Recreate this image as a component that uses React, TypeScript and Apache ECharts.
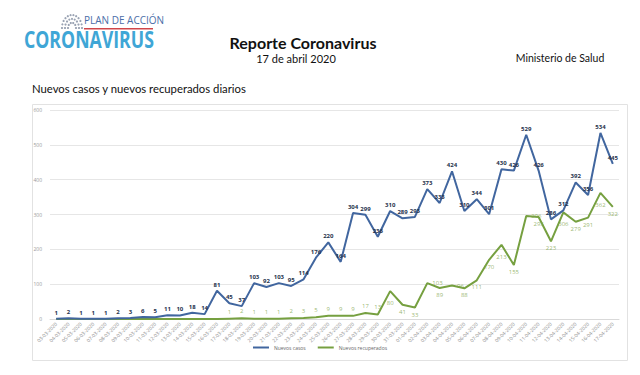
import React, { useEffect, useRef } from "react";
import * as echarts from "echarts";

const dates: string[] = [
  "03-03-2020","04-03-2020","05-03-2020","06-03-2020","07-03-2020","08-03-2020","09-03-2020","10-03-2020","11-03-2020","12-03-2020",
  "13-03-2020","14-03-2020","15-03-2020","16-03-2020","17-03-2020","18-03-2020","19-03-2020","20-03-2020","21-03-2020","22-03-2020",
  "23-03-2020","24-03-2020","25-03-2020","26-03-2020","27-03-2020","28-03-2020","29-03-2020","30-03-2020","31-03-2020","01-04-2020",
  "02-04-2020","03-04-2020","04-04-2020","05-04-2020","06-04-2020","07-04-2020","08-04-2020","09-04-2020","10-04-2020","11-04-2020",
  "12-04-2020","13-04-2020","14-04-2020","15-04-2020","16-04-2020","17-04-2020",
];

const nuevosCasos: number[] = [
  1, 2, 1, 1, 1, 2, 3, 6, 5, 11,
  10, 18, 14, 81, 45, 37, 103, 92, 103, 95,
  114, 176, 220, 164, 304, 299, 236, 310, 289, 293,
  373, 333, 424, 310, 344, 301, 430, 426, 529, 426,
  286, 312, 392, 356, 534, 445,
];

const nuevosRecuperados: number[] = [
  0, 0, 0, 0, 0, 0, 0, 0, 0, 0,
  0, 0, 0, 0, 1, 2, 1, 1, 1, 2,
  3, 5, 9, 9, 9, 17, 13, 80, 41, 33,
  103, 89, 96, 88, 111, 170, 213, 155, 296, 293,
  223, 306, 279, 291, 362, 322,
];

const yTicks = { min: 0, max: 600, interval: 100 };

const BLUE = "#41669f";
const GREEN = "#76a040";

export default function App() {
  const ref = useRef<HTMLDivElement>(null);
  useEffect(() => {
    if (!ref.current) return;
    const chart = echarts.init(ref.current, undefined, { renderer: "svg" });

    // decorative dome of dots for logo
    const dots: any[] = [];
    const cx = 72, cy = 28;
    [4, 7, 10].forEach((r, ri) => {
      const n = 5 + ri * 3;
      for (let i = 0; i <= n; i++) {
        const a = Math.PI - (Math.PI * i) / n;
        dots.push({
          type: "circle",
          shape: { cx: cx + r * Math.cos(a), cy: cy - r * Math.sin(a) * 1.3, r: 1.1 },
          style: { fill: "#9aa3b3" },
        });
      }
    });

    const greenLabel = (v: number, i: number) => {
      if (v < 20) return { show: v !== 0, position: "top", distance: 4 };
      const prev = i > 0 ? nuevosRecuperados[i - 1] : v;
      const next = i < nuevosRecuperados.length - 1 ? nuevosRecuperados[i + 1] : v;
      if (v > prev && v > next && v - next < 20) return { show: true, position: "right", distance: 5 };
      if (v > prev && v > next) return { show: true, position: "bottom", distance: 9 };
      return { show: true, position: "bottom", distance: 4 };
    };

    chart.setOption({
      animation: false,
      backgroundColor: "#ffffff",
      textStyle: { fontFamily: "Open Sans" },
      graphic: [
        ...dots,
        {
          type: "text", left: 84, top: 15,
          style: { text: "PLAN DE ACCIÓN", fontSize: 10, fill: "#4b6ea8", fontFamily: "Open Sans" },
        },
        {
          type: "rect", shape: { x: 84, y: 28, width: 69, height: 1.5 }, style: { fill: "#d0464a" },
        },
        {
          type: "text", x: 24, y: 28, scaleX: 0.77,
          style: { text: "CORONAVIRUS", fontSize: 23, fontWeight: "bold", fill: "#3fa6d6", fontFamily: "Open Sans" },
        },
        {
          type: "text", x: 303, y: 42,
          style: { text: "Reporte Coronavirus", fontSize: 16, fontWeight: "bold", fill: "#111", fontFamily: "Lato", align: "center", verticalAlign: "middle" },
        },
        {
          type: "text", x: 296, y: 58,
          style: { text: "17 de abril 2020", fontSize: 11, fill: "#111", fontFamily: "Lato", align: "center", verticalAlign: "middle" },
        },
        {
          type: "text", x: 560, y: 58,
          style: { text: "Ministerio de Salud", fontSize: 10.5, fill: "#111", fontFamily: "Lato", align: "center", verticalAlign: "middle" },
        },
        {
          type: "text", x: 32, y: 88,
          style: { text: "Nuevos casos y nuevos recuperados diarios", fontSize: 11.3, fill: "#111", fontFamily: "Lato", verticalAlign: "middle" },
        },
        {
          type: "rect", shape: { x: 32.5, y: 104.5, width: 595, height: 256 },
          style: { fill: "none", stroke: "#e2e2e2", lineWidth: 1 }, z: -1,
        },
      ],
      grid: { left: 50, right: 21, top: 110, bottom: 56 },
      legend: {
        bottom: 20,
        left: "center",
        itemWidth: 16,
        itemHeight: 2,
        itemGap: 12,
        icon: "rect",
        textStyle: { fontSize: 5, color: "#666" },
        data: ["Nuevos casos", "Nuevos recuperados"],
      },
      xAxis: {
        type: "category",
        data: dates,
        boundaryGap: true,
        axisLine: { lineStyle: { color: "#d9d9d9" } },
        axisTick: { show: false },
        axisLabel: { rotate: 45, fontSize: 5, color: "#888", interval: 0, margin: 4 },
      },
      yAxis: {
        type: "value",
        min: yTicks.min,
        max: yTicks.max,
        interval: yTicks.interval,
        axisLine: { show: false },
        axisTick: { show: false },
        axisLabel: { fontSize: 5, color: "#999", margin: 8 },
        splitLine: { lineStyle: { color: "#e6e6e6" } },
      },
      series: [
        {
          name: "Nuevos casos",
          type: "line",
          data: nuevosCasos,
          symbol: "circle",
          symbolSize: 0.1,
          showAllSymbol: true,
          lineStyle: { color: BLUE, width: 2 },
          itemStyle: { color: BLUE },
          label: { show: true, position: "top", distance: 3, fontSize: 6, fontWeight: "bold", color: "#26324d" },
          z: 3,
        },
        {
          name: "Nuevos recuperados",
          type: "line",
          data: nuevosRecuperados,
          symbol: "none",
          lineStyle: { color: GREEN, width: 2 },
          itemStyle: { color: GREEN },
          z: 2,
        },
        {
          name: "Etiquetas recuperados",
          type: "scatter",
          silent: true,
          symbolSize: 0,
          itemStyle: { color: GREEN },
          data: nuevosRecuperados.map((v, i) => ({ value: v, label: greenLabel(v, i) })),
          label: { show: true, fontSize: 6, color: "#7fa64d" },
          labelLayout: { hideOverlap: false },
          z: 5,
        },
      ],
    });
    return () => chart.dispose();
  }, []);
  return (
    <div
      ref={ref}
      style={{ position: "fixed", left: 0, top: 0, width: 640, height: 375 }}
    />
  );
}
